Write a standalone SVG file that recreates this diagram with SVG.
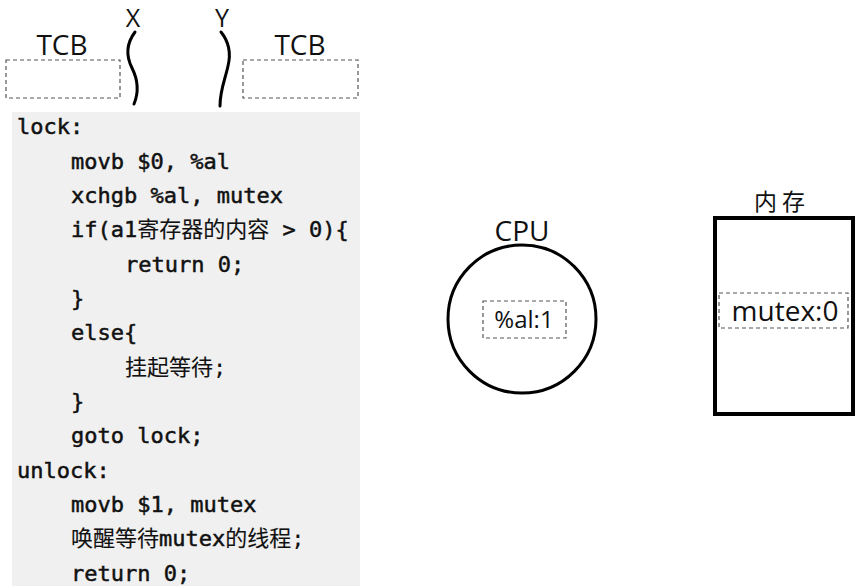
<svg xmlns="http://www.w3.org/2000/svg" width="857" height="588" viewBox="0 0 857 588">
<style>
.lbl{font-family:"Open Sans","Noto Sans","Noto Sans CJK SC",sans-serif;font-size:28px;fill:#111;text-anchor:middle}
.xy{font-size:25px}
.code{font-family:"DejaVu Sans Mono","Noto Sans CJK SC",monospace;font-size:22px;fill:#111;stroke:#111;stroke-width:0.5}
.cjk{stroke-width:0.1}
.dash{fill:none;stroke:#555;stroke-width:1.2;stroke-dasharray:4 3}
.thread{fill:none;stroke:#000;stroke-width:3;stroke-linecap:round}
.val{font-family:"Open Sans","Noto Sans",sans-serif;font-size:24px;fill:#111;text-anchor:middle}
.big{font-size:28px}
.mem{font-family:"Noto Sans CJK SC",sans-serif;font-size:23px;letter-spacing:5px}
</style>
<rect width="857" height="588" fill="#fff"/>
<g id="tcb-left">
<text class="lbl" x="62" y="55">TCB</text>
<rect class="dash" x="6" y="60" width="114" height="38"/>
</g>
<g id="thread-x">
<text class="lbl xy" x="133" y="27">X</text>
<path class="thread" d="M135,32 C126,44 126,56 132,68 C138,80 139,92 134,104"/>
</g>
<g id="thread-y">
<text class="lbl xy" x="222" y="27">Y</text>
<path class="thread" d="M221,32 C229,42 231,54 228,66 C225,80 220,90 220,106"/>
</g>
<g id="tcb-right">
<text class="lbl" x="300" y="55">TCB</text>
<rect class="dash" x="243" y="60" width="115" height="38"/>
</g>
<g id="code">
<rect x="12" y="112" width="348" height="474" fill="#f0f0f0"/>
<text class="code" x="17" y="134">lock:</text>
<text class="code" x="71" y="168.5">movb $0, %al</text>
<text class="code" x="71" y="203">xchgb %al, mutex</text>
<text class="code" x="71" y="237">if(a1<tspan class="cjk">寄存器的内容</tspan> &gt; 0){</text>
<text class="code" x="125" y="271.5">return 0;</text>
<text class="code" x="71" y="306">}</text>
<text class="code" x="71" y="340">else{</text>
<text class="code cjk" x="125" y="374.5">挂起等待;</text>
<text class="code" x="71" y="409">}</text>
<text class="code" x="71" y="443">goto lock;</text>
<text class="code" x="17" y="477.5">unlock:</text>
<text class="code" x="71" y="512">movb $1, mutex</text>
<text class="code" x="71" y="546"><tspan class="cjk">唤醒等待</tspan>mutex<tspan class="cjk">的线程;</tspan></text>
<text class="code" x="71" y="580.5">return 0;</text>
</g>
<g id="cpu">
<text class="lbl" x="522" y="241">CPU</text>
<circle cx="522" cy="319" r="74" fill="none" stroke="#000" stroke-width="3"/>
<rect class="dash" x="483" y="301" width="83" height="37"/>
<text class="val" x="524" y="328">%al:1</text>
</g>
<g id="memory">
<text class="lbl mem" x="782" y="210">内存</text>
<rect x="715" y="218" width="138" height="196" fill="none" stroke="#000" stroke-width="4"/>
<rect class="dash" x="719" y="293" width="129" height="35"/>
<text class="val big" x="785" y="321">mutex:0</text>
</g>
</svg>
